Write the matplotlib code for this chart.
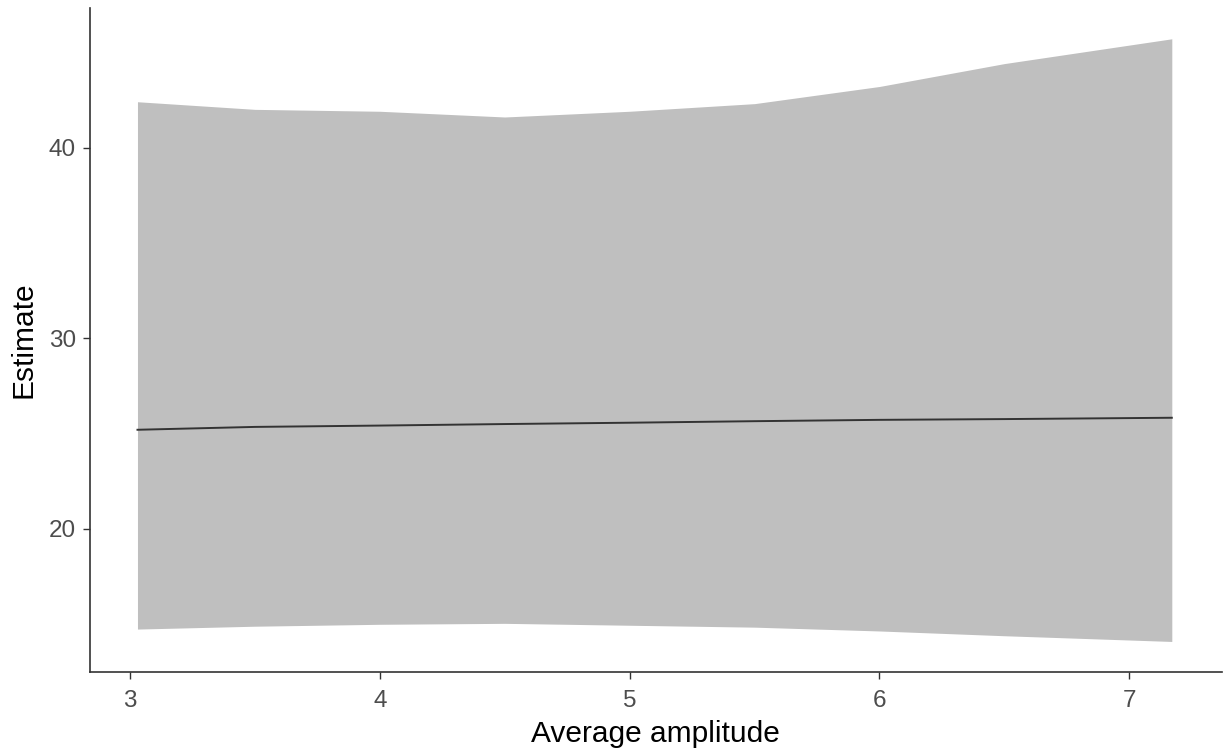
import matplotlib
matplotlib.use("Agg")
import matplotlib.pyplot as plt

plt.rcParams["font.family"] = ["Liberation Sans", "DejaVu Sans"]

# values
amplitude = [3.03, 3.5, 4.0, 4.5, 5.0, 5.5, 6.0, 6.5, 7.17]
estimate = [25.2, 25.35, 25.42, 25.5, 25.57, 25.65, 25.72, 25.76, 25.83]
upper = [42.4, 42.0, 41.9, 41.6, 41.9, 42.3, 43.2, 44.4, 45.7]
lower = [14.75, 14.9, 15.0, 15.05, 14.95, 14.85, 14.65, 14.4, 14.1]

x_ticks = [3, 4, 5, 6, 7]
y_ticks = [20, 30, 40]

fig = plt.figure(figsize=(12.23, 7.53), dpi=100)
ax = fig.add_axes([0.0736, 0.1076, 0.9254, 0.8814])

ax.fill_between(amplitude, lower, upper, color="#bfbfbf", linewidth=0)
ax.plot(amplitude, estimate, color="#333333", linewidth=1.4)

ax.set_xlim(2.84, 7.37)
ax.set_ylim(12.5, 47.3)
ax.set_xticks(x_ticks)
ax.set_yticks(y_ticks)

for side in ["top", "right"]:
    ax.spines[side].set_visible(False)
for side in ["left", "bottom"]:
    ax.spines[side].set_color("#333333")
    ax.spines[side].set_linewidth(1.2)

ax.tick_params(colors="#333333", labelcolor="#4d4d4d", labelsize=17.5, length=5, width=1, pad=5)
ax.tick_params(axis="x", pad=8)
ax.set_xlabel("Average amplitude", fontsize=21.5, color="black", labelpad=6)
ax.set_ylabel("Estimate", fontsize=21.5, color="black", labelpad=8)

fig.savefig("out.png", dpi=100)
plt.close(fig)
